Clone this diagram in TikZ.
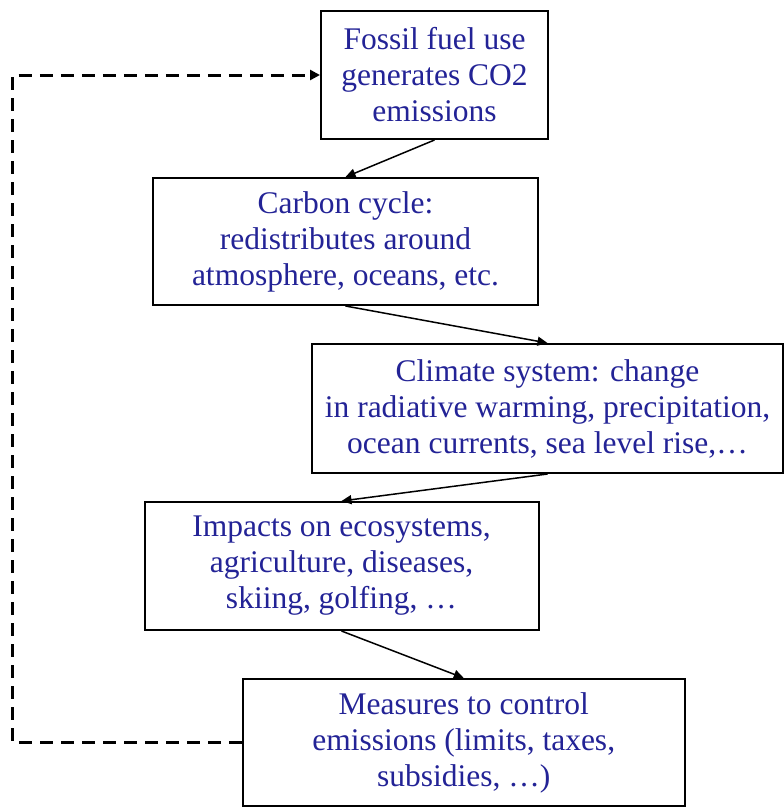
\documentclass[tikz,border=0pt]{standalone}
\usepackage{fontspec}
\setmainfont{Liberation Serif}
\usetikzlibrary{arrows.meta}
\definecolor{txtblue}{RGB}{35,35,150}
\tikzset{
  box/.style={draw=black, line width=2pt, align=center, text=txtblue,
    font=\fontsize{31.5}{36}\selectfont, inner sep=0pt},
  flow/.style={line width=1.5pt, -{Triangle[length=10pt,width=9pt]}},
  feedback/.style={line width=3pt, dash pattern=on 13pt off 8pt, -{Triangle[length=10pt,width=10pt]}}
}
\begin{document}
\begin{tikzpicture}[x=1pt,y=-1pt]
\useasboundingbox (0,0) rectangle (784,807);
\node[box, minimum width=227pt, minimum height=128pt] (b1) at (434.5,75) {Fossil fuel use\\generates CO2\\emissions};
\node[box, minimum width=385pt, minimum height=127pt] (b2) at (345.5,241.5) {Carbon cycle:\\redistributes around\\atmosphere, oceans, etc.};
\node[box, minimum width=471pt, minimum height=129pt] (b3) at (547.5,408.5) {Climate system: change\\in radiative warming, precipitation,\\ocean currents, sea level rise,\dots};
\node[box, minimum width=394pt, minimum height=128pt] (b4) at (341.5,566) {Impacts on ecosystems,\\agriculture, diseases,\\skiing, golfing, \dots};
\node[box, minimum width=442pt, minimum height=127pt] (b5) at (463.75,742.5) {Measures to control\\emissions (limits, taxes,\\subsidies, \dots)};
\coordinate (lb) at (12.5,742.5);
\draw[flow] (b1.south) -- (b2.north);
\draw[flow] (b2.south) -- (b3.north);
\draw[flow] (b3.south) -- (b4.north);
\draw[flow] (b4.south) -- (b5.north);
\draw[feedback] (b5.west) -- (lb) |- (b1.west);
\end{tikzpicture}
\end{document}
